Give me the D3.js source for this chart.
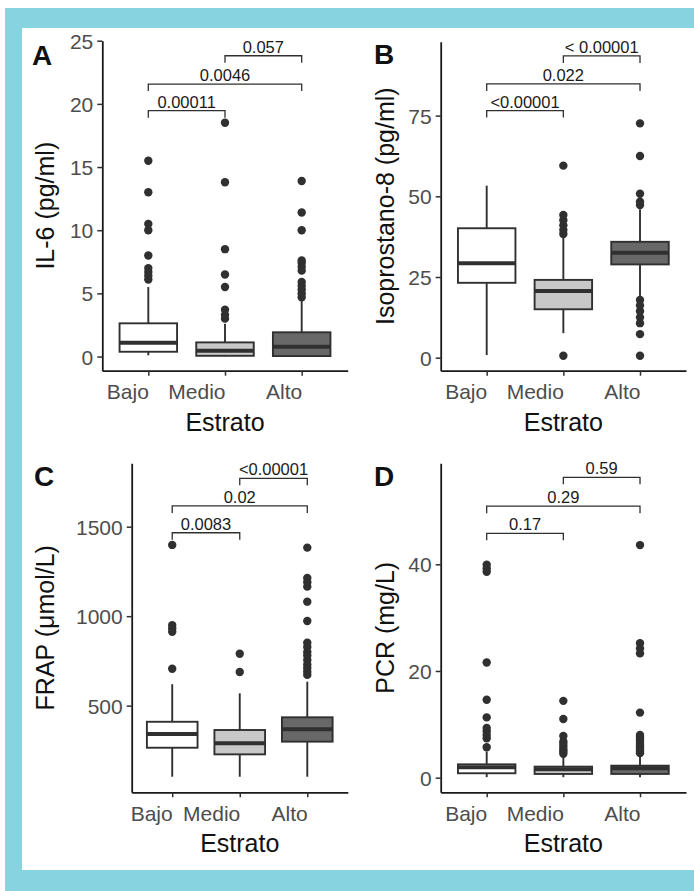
<!DOCTYPE html>
<html>
<head>
<meta charset="utf-8">
<script src="https://cdn.jsdelivr.net/npm/d3@7"></script>
<style>
  body { margin: 0; background: #fff; }
  svg  { display: block; font-family: "Liberation Sans", Arial, sans-serif; }
</style>
</head>
<body>
<svg id="chart" width="694" height="891"></svg>
<script>
/* ─── Boxplots por estrato — IL-6, Isoprostano-8, FRAP, PCR ─── */

// ── Data ──────────────────────────────────────────────────
const categories = ['Bajo', 'Medio', 'Alto'];

// box stats per category: [whisker low, q1, median, q3, whisker high]
const il6Stats = [[0.1, 0.38, 1.09, 2.63, 5.5], [0.02, 0.06, 0.46, 1.12, 2.6], [0.0, 0.04, 0.78, 1.92, 4.5]];
const il6Outliers = [
  [6.1, 6.4, 6.7, 7.0, 8.0, 10.0, 10.5, 13.0, 15.5],
  [3.0, 3.3, 3.7, 5.5, 6.5, 8.5, 13.8, 18.5],
  [4.7, 5.0, 5.3, 5.6, 5.9, 6.8, 7.1, 7.4, 7.6, 10.0, 11.4, 13.9]
];
const il6Ticks = [0, 5, 10, 15, 20, 25];
const il6Range = [-1.12, 25];
const il6Brackets = [19.46, 21.57, 23.81];
const il6Pvalues = ['0.00011', '0.0046', '0.057'];

const isoStats = [[0.8, 23.2, 29.25, 40.1, 53.3], [7.6, 15.0, 20.7, 24.1, 37.5], [18.9, 28.9, 32.5, 35.9, 46.0]];
const isoOutliers = [
  [],
  [0.6, 38.3, 39.6, 41.0, 42.6, 44.2, 59.5],
  [0.6, 7.3, 10.7, 12.5, 14.4, 16.2, 17.9, 47.3, 48.3, 50.8, 62.5, 72.6]
];
const isoTicks = [0, 25, 50, 75];
const isoRange = [-4.03, 97.9];
const isoBrackets = [76.55, 84.82, 93.5];
const isoPvalues = ['<0.00001', '0.022', '< 0.00001'];

const frapStats = [[103, 265, 342, 410, 620], [103, 228, 290, 364, 569], [103, 299, 368, 435, 634]];
const frapOutliers = [
  [706, 913, 932, 950, 1398],
  [688, 790],
  [672, 690, 710, 730, 755, 780, 800, 828, 852, 973, 1081, 1165, 1190, 1213, 1383]
];
const frapTicks = [500, 1000, 1500];
const frapRange = [16, 1854];
const frapBrackets = [1466, 1616, 1770];
const frapPvalues = ['0.0083', '0.02', '<0.00001'];

const pcrStats = [[0.1, 0.83, 1.95, 2.5, 4.9], [0.1, 0.7, 1.6, 2.07, 3.9], [0.1, 0.7, 1.75, 2.25, 3.9]];
const pcrOutliers = [
  [5.7, 7.4, 8.0, 8.7, 9.3, 11.3, 14.6, 21.6, 38.6, 39.2, 39.9],
  [4.5, 4.9, 5.3, 5.8, 6.3, 6.8, 7.8, 11.0, 14.4],
  [4.6, 4.9, 5.3, 5.7, 6.1, 6.5, 6.9, 7.3, 7.7, 8.0, 12.2, 23.3, 24.2, 25.2, 43.6]
];
const pcrTicks = [0, 20, 40];
const pcrRange = [-2.74, 58.93];
const pcrBrackets = [45.8, 50.9, 56.3];
const pcrPvalues = ['0.17', '0.29', '0.59'];

// which pair of categories each bracket joins
const bracketPairs = [[0, 1], [0, 2], [1, 2]];
const fills = ['#ffffff', '#c8c8c8', '#686868'];

// ── Panel layout ──────────────────────────────────────────
const panels = [
  { letter: 'A', title: 'IL-6 (pg/ml)', stats: il6Stats, outliers: il6Outliers, ticks: il6Ticks,
    range: il6Range, brackets: il6Brackets, pvals: il6Pvalues,
    left: 102.3, right: 347.7, top: 40.7, bottom: 370.7, titleX: 54, letterX: 32, letterY: 65 },
  { letter: 'B', title: 'Isoprostano-8 (pg/ml)', stats: isoStats, outliers: isoOutliers, ticks: isoTicks,
    range: isoRange, brackets: isoBrackets, pvals: isoPvalues,
    left: 440.7, right: 686, top: 41.7, bottom: 370.7, titleX: 394, letterX: 374, letterY: 64 },
  { letter: 'C', title: 'FRAP (\u03bcmol/L)', stats: frapStats, outliers: frapOutliers, ticks: frapTicks,
    range: frapRange, brackets: frapBrackets, pvals: frapPvalues,
    left: 131.7, right: 347.8, top: 463.3, bottom: 792.3, titleX: 54, letterX: 34, letterY: 486 },
  { letter: 'D', title: 'PCR (mg/L)', stats: pcrStats, outliers: pcrOutliers, ticks: pcrTicks,
    range: pcrRange, brackets: pcrBrackets, pvals: pcrPvalues,
    left: 440.7, right: 686, top: 463.3, bottom: 792.3, titleX: 394, letterX: 374, letterY: 486 }
];

const INK = '#303030';
const svg = d3.select('#chart');

// ── Frame ─────────────────────────────────────────────────
svg.append('rect').attr('x', 5).attr('y', 8).attr('width', 689).attr('height', 883).attr('fill', '#87d3df');
svg.append('rect').attr('x', 22).attr('y', 28).attr('width', 672).attr('height', 842).attr('fill', '#ffffff');

// ── Draw one panel ────────────────────────────────────────
function drawPanel(p) {
  const g = svg.append('g');

  const x = d3.scalePoint().domain(categories).range([p.left, p.right]).padding(0.6);
  const y = d3.scaleLinear().domain(p.range).range([p.bottom, p.top]);
  const bw = x.step() * 0.75;

  // y axis
  const yAxis = g.append('g')
    .attr('transform', `translate(${p.left},0)`)
    .call(d3.axisLeft(y).tickValues(p.ticks).tickFormat(d3.format('d'))
      .tickSize(5).tickSizeOuter(0).tickPadding(4));
  // x axis
  const xAxis = g.append('g')
    .attr('transform', `translate(0,${p.bottom})`)
    .call(d3.axisBottom(x).tickSize(5).tickSizeOuter(0).tickPadding(6));

  [yAxis, xAxis].forEach(ax => {
    ax.attr('font-size', 21).attr('font-family', '"Liberation Sans", Arial, sans-serif');
    ax.select('.domain').attr('stroke', '#1a1a1a').attr('stroke-width', 1.8);
    ax.selectAll('.tick line').attr('stroke', INK).attr('stroke-width', 1.5);
    ax.selectAll('.tick text').attr('fill', '#4d4d4d');
  });
  yAxis.selectAll('.tick text').attr('dy', '0.36em');
  // category labels sit right-aligned on their tick
  xAxis.selectAll('.tick text').attr('text-anchor', 'end').attr('dx', 0).attr('dy', '0.82em');

  // boxes
  categories.forEach((cat, i) => {
    const [lo, q1, med, q3, hi] = p.stats[i];
    const cx = x(cat);

    g.selectAll(null)
      .data(p.outliers[i])
      .enter()
      .append('circle')
      .attr('cx', cx)
      .attr('cy', d => y(d))
      .attr('r', 4.2)
      .attr('fill', INK);

    g.append('line').attr('x1', cx).attr('x2', cx).attr('y1', y(lo)).attr('y2', y(q1))
      .attr('stroke', INK).attr('stroke-width', 1.9);
    g.append('line').attr('x1', cx).attr('x2', cx).attr('y1', y(q3)).attr('y2', y(hi))
      .attr('stroke', INK).attr('stroke-width', 1.9);

    g.append('rect')
      .attr('x', cx - bw / 2).attr('width', bw)
      .attr('y', y(q3)).attr('height', y(q1) - y(q3))
      .attr('fill', fills[i]).attr('stroke', INK).attr('stroke-width', 1.9);

    g.append('line')
      .attr('x1', cx - bw / 2).attr('x2', cx + bw / 2)
      .attr('y1', y(med)).attr('y2', y(med))
      .attr('stroke', INK).attr('stroke-width', 4);
  });

  // significance brackets
  bracketPairs.forEach(([a, b], k) => {
    const x1 = x(categories[a]), x2 = x(categories[b]);
    const yy = y(p.brackets[k]);
    g.append('path')
      .attr('d', `M${x1},${yy + 7}V${yy}H${x2}V${yy + 7}`)
      .attr('fill', 'none').attr('stroke', INK).attr('stroke-width', 1.3);
    g.append('text')
      .attr('x', (x1 + x2) / 2).attr('y', yy - 3)
      .attr('text-anchor', 'middle')
      .attr('fill', '#1a1a1a')
      .style('font-size', '16.5px')
      .text(p.pvals[k]);
  });

  // titles
  g.append('text')
    .attr('transform', `translate(${p.titleX},${(p.top + p.bottom) / 2}) rotate(-90)`)
    .attr('text-anchor', 'middle')
    .attr('fill', '#111')
    .style('font-size', '25px')
    .text(p.title);

  g.append('text')
    .attr('x', (p.left + p.right) / 2).attr('y', p.bottom + 60)
    .attr('text-anchor', 'middle')
    .attr('fill', '#111')
    .style('font-size', '25px')
    .text('Estrato');

  g.append('text')
    .attr('x', p.letterX).attr('y', p.letterY)
    .attr('fill', '#111')
    .style('font-size', '28px')
    .style('font-weight', 'bold')
    .text(p.letter);
}

panels.forEach(drawPanel);
</script>
</body>
</html>
